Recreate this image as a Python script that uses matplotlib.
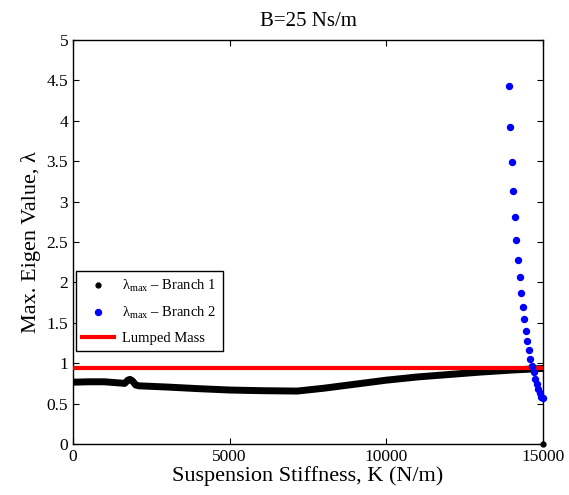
import matplotlib
matplotlib.use("Agg")
import matplotlib.pyplot as plt

# Branch 1
k_branch1 = [0, 500, 1000, 1500, 1650, 1750, 1820, 1900, 2000, 2100, 3000, 4000,
             5000, 6000, 7150, 8000, 9000, 10000, 11000, 12000, 13000, 14000, 15000]
lam_branch1 = [0.765, 0.77, 0.77, 0.755, 0.75, 0.79, 0.80, 0.78, 0.73, 0.72, 0.705, 0.685,
               0.668, 0.66, 0.655, 0.69, 0.74, 0.79, 0.83, 0.86, 0.89, 0.915, 0.935]
k_branch1_end = [15000]
lam_branch1_end = [0.0]

# Branch 2
k_branch2 = [13900, 13950, 14000, 14050, 14100, 14150, 14200, 14250, 14300, 14350, 14400,
             14450, 14500, 14550, 14600, 14650, 14700, 14750, 14800, 14850, 14900, 14950, 15000]
lam_branch2 = [4.425, 3.924, 3.495, 3.127, 2.813, 2.527, 2.283, 2.063, 1.870, 1.696, 1.542,
               1.402, 1.278, 1.163, 1.058, 0.971, 0.885, 0.803, 0.741, 0.679, 0.629, 0.587, 0.574]

lumped_mass = 0.945

plt.rcParams['font.family'] = ['Liberation Serif', 'DejaVu Serif']
plt.rcParams['mathtext.fontset'] = 'custom'
plt.rcParams['mathtext.rm'] = 'Liberation Serif'
plt.rcParams['mathtext.it'] = 'Liberation Serif'

fig = plt.figure(figsize=(5.69, 4.95), dpi=100)
ax = fig.add_axes([73/569, 51/495, 470/569, 404/495])

ax.plot(k_branch1, lam_branch1, color='black', lw=5, solid_capstyle='round',
        solid_joinstyle='round', zorder=3, label='_nolegend_')
ax.plot(k_branch1_end, lam_branch1_end, 'o', color='black', ms=3.5, clip_on=False,
        zorder=5, label='λ$_{\\mathrm{max}}$ – Branch 1')
ax.plot(k_branch2, lam_branch2, 'o', color='blue', ms=4.3, ls='none', clip_on=False,
        zorder=4, label='λ$_{\\mathrm{max}}$ – Branch 2')
ax.axhline(lumped_mass, color='red', lw=3, zorder=3.5, label='Lumped Mass')

ax.set_xlim(0, 15000)
ax.set_ylim(0, 5)
ax.set_xticks([0, 5000, 10000, 15000])
ax.set_yticks([0, 0.5, 1, 1.5, 2, 2.5, 3, 3.5, 4, 4.5, 5])
ax.set_yticklabels(['0', '0.5', '1', '1.5', '2', '2.5', '3', '3.5', '4', '4.5', '5'])
ax.tick_params(direction='in', top=True, right=True, labelsize=12.5, length=4, width=0.8)
for s in ax.spines.values():
    s.set_linewidth(1.0)

ax.set_xlabel('Suspension Stiffness, K (N/m)', fontsize=16, labelpad=1)
ax.set_ylabel('Max. Eigen Value, λ', fontsize=16, labelpad=4)
ax.set_title('B=25 Ns/m', fontsize=15, pad=10)

leg = ax.legend(loc='upper left', bbox_to_anchor=(0.006, 0.428), borderaxespad=0,
                fontsize=10.5, frameon=True, fancybox=False, edgecolor='black',
                framealpha=1, handlelength=2.2, borderpad=0.45, labelspacing=0.75,
                handletextpad=0.5)
leg.get_frame().set_linewidth(1.0)

fig.savefig('out.png', dpi=100)
